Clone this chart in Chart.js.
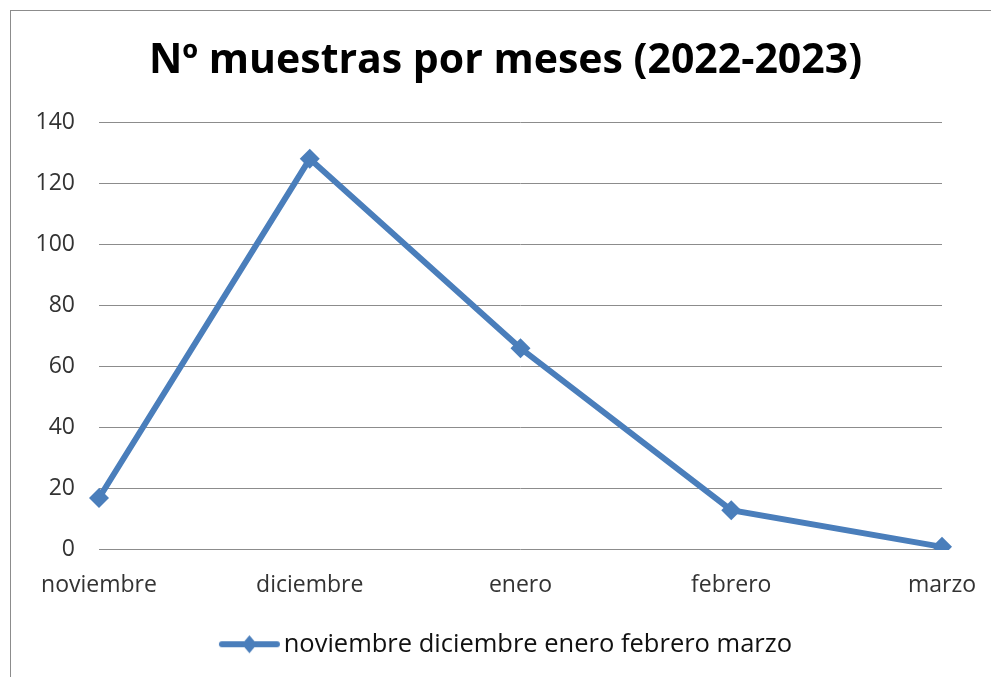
<!DOCTYPE html>
<html>
<head>
<meta charset="utf-8">
<script src="https://cdn.jsdelivr.net/npm/chart.js@4/dist/chart.umd.min.js"></script>
<style>
  html, body { margin: 0; padding: 0; background: #fff; overflow: hidden; }
  #wrap { position: relative; width: 991px; height: 677px; }
  #frame { position: absolute; left: 10px; top: 10px; width: 1000px; height: 700px;
           border-top: 1px solid #8c8c8c; border-left: 1px solid #8c8c8c; pointer-events: none; }
  canvas { position: absolute; left: 0; top: 0; }
</style>
</head>
<body>
<div id="wrap">
  <canvas id="lineChart" width="991" height="677"></canvas>
  <div id="frame"></div>
</div>
<script>
const months = ['noviembre', 'diciembre', 'enero', 'febrero', 'marzo'];
const samples = [17, 128, 66, 13, 1];
const yTicks = [0, 20, 40, 60, 80, 100, 120, 140];
const seriesName = 'noviembre diciembre enero febrero marzo';

const blue = '#4a7ebb';
const font = 'Open Sans';

// legend marker: line with a diamond in the middle, like Excel
// (drawn off-centre so the line sits right against the text)
function legendMarker() {
  const c = document.createElement('canvas');
  c.width = 80; c.height = 20;
  const g = c.getContext('2d');
  g.strokeStyle = blue;
  g.lineWidth = 6;
  g.lineCap = 'round';
  g.beginPath(); g.moveTo(17, 10); g.lineTo(72, 10); g.stroke();
  g.fillStyle = blue;
  g.beginPath(); g.moveTo(44.5, 1); g.lineTo(52, 10); g.lineTo(44.5, 19); g.lineTo(37, 10); g.closePath(); g.fill();
  return c;
}

document.addEventListener('DOMContentLoaded', function() {
  const ctx = document.getElementById('lineChart').getContext('2d');
  const marker = legendMarker();
  new Chart(ctx, {
    type: 'line',
    data: {
      labels: months,
      datasets: [{
        label: seriesName,
        data: samples,
        borderColor: blue,
        backgroundColor: blue,
        borderWidth: 6,
        pointStyle: 'rectRot',
        pointRadius: 10,
        pointBorderWidth: 0,
        tension: 0
      }]
    },
    options: {
      responsive: false,
      animation: false,
      layout: { padding: { top: 0, right: 0, bottom: 10, left: 20 } },
      plugins: {
        title: {
          display: true,
          text: 'Nº muestras por meses (2022-2023)',
          color: '#000',
          font: { family: font, size: 41, weight: 'bold' },
          padding: { top: 37, bottom: 36 }
        },
        legend: {
          position: 'bottom',
          labels: {
            color: '#111',
            font: { family: font, size: 25.5 },
            usePointStyle: true,
            pointStyleWidth: 52,
            padding: 10,
            generateLabels: function(chart) {
              return chart.data.datasets.map(function(ds, i) {
                return { text: ds.label, pointStyle: marker, fontColor: '#111', datasetIndex: i, lineWidth: 0 };
              });
            }
          }
        },
        tooltip: { enabled: false }
      },
      scales: {
        x: {
          offset: false,
          grid: { display: false, drawTicks: false },
          border: { display: false },
          ticks: { color: '#333', font: { family: font, size: 23 }, padding: 22 },
          afterFit: function(scale) { scale.paddingLeft = 0; scale.paddingRight = 0; }
        },
        y: {
          min: 0,
          max: 140,
          afterBuildTicks: function(scale) { scale.ticks = yTicks.map(v => ({ value: v })); },
          afterFit: function(scale) { scale.width = 79; },
          grid: { color: '#8c8c8c', lineWidth: 1, drawTicks: false },
          border: { display: false },
          ticks: { color: '#333', font: { family: font, size: 23 }, padding: 24 }
        },
        // empty right-hand axis only keeps room on the right of the plot
        yRight: {
          position: 'right',
          grid: { display: false, drawTicks: false },
          border: { display: false },
          ticks: { display: false },
          afterFit: function(scale) { scale.width = 49; }
        }
      }
    }
  });
});
</script>
</body>
</html>
